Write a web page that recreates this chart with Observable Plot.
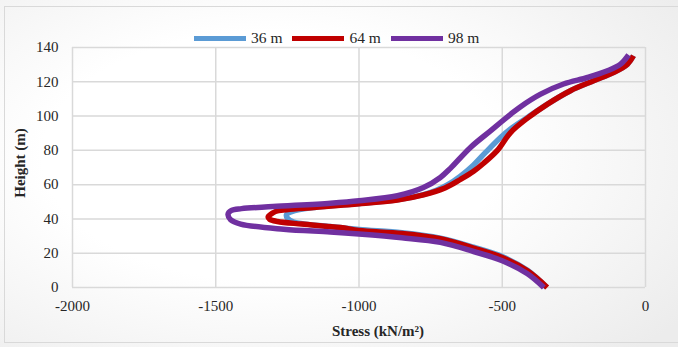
<!DOCTYPE html>
<html><head><meta charset="utf-8">
<script src="https://cdn.jsdelivr.net/npm/d3@7"></script>
<script src="https://cdn.jsdelivr.net/npm/@observablehq/plot@0.6"></script>
<style>
html,body{margin:0;padding:0;background:#fff;}
#wrap{position:relative;width:678px;height:347px;overflow:hidden;
  background:radial-gradient(ellipse 75% 80% at 40% 45%, #ffffff 45%, #ececec 100%);
  font-family:"Liberation Serif","Times New Roman",serif;color:#262626;}
#frame{position:absolute;left:4px;top:6px;width:700px;height:337px;border:1.5px solid #d9d9d9;box-sizing:border-box;}
#chart{position:absolute;left:0;top:0;}
#legend{position:absolute;left:194px;top:29px;display:flex;align-items:center;font-size:15.5px;}
.item{display:flex;align-items:center;margin-right:10px;}
.sw{width:52px;height:5px;margin-right:5px;}
#ytitle{position:absolute;left:20px;top:163px;transform:translate(-50%,-50%) rotate(-90deg);font-weight:bold;font-size:15px;white-space:nowrap;}
#xtitle{position:absolute;left:378px;top:331px;transform:translate(-50%,-50%);font-weight:bold;font-size:15px;white-space:nowrap;}
</style></head>
<body>
<div id="wrap"><div id="frame"></div><div id="chart"></div>
<div id="legend"></div>
<div id="ytitle">Height (m)</div>
<div id="xtitle">Stress (kN/m²)</div>
</div>
<script>
const seriesNames = ["36 m", "64 m", "98 m"];
const seriesColors = ["#5B9BD5", "#C00000", "#7030A0"];
const xTicks = [-2000, -1500, -1000, -500, 0];
const yTicks = [0, 20, 40, 60, 80, 100, 120, 140];

// 36 m
const stress36 = [-345,-412,-500,-600,-716,-850,-1000,-1100,-1228,-1250,-1253,-1235,-1150,-1065,-1000,-866,-775,-730,-690,-646,-600,-560,-506,-471,-412,-342,-262,-181,-112,-63,-42];
const height36 = [0,10,18,23.5,28.8,32,33.8,35.6,38.2,40.5,42.5,44.3,46.8,48.1,48.9,51.1,54.2,56.7,60,65,71.5,78.5,87.5,92.5,99.2,107,114.8,120.6,125.4,130.3,135.2];
// 64 m
const stress64 = [-343,-412,-500,-600,-716,-850,-1000,-1065,-1200,-1285,-1312,-1317,-1300,-1285,-1150,-1065,-1000,-866,-775,-700,-646,-600,-565,-517,-471,-412,-342,-262,-181,-112,-63,-42];
const height64 = [0,9.7,17.5,23,28.4,31.5,33.3,35,37,38.5,39.8,41.2,43.6,44.7,46.8,48,48.8,51,54,58,63,67.8,72.5,80,90.4,98.8,107,114.8,120.6,125.4,130.3,135.2];
// 98 m
const stress98 = [-355,-412,-500,-600,-716,-850,-1000,-1100,-1263,-1413,-1448,-1457,-1445,-1410,-1300,-1099,-1000,-866,-775,-716,-681,-611,-541,-471,-436,-366,-286,-202,-133,-87,-59];
const height98 = [0,8,15.6,21,26.3,29,31.2,32.4,34,37,39.5,42.8,45,46,47.2,49.2,50.6,53.5,58.3,64.2,69.5,81.7,91.4,101,105.5,112.8,118.7,122.5,126.4,130.3,135.7];

const stressData = [stress36, stress64, stress98];
const heightData = [height36, height64, height98];

const rows = seriesNames.map((name, i) =>
  stressData[i].map((s, j) => ({series: name, stress: s, height: heightData[i][j]})));

const fmt = d => String(d);

const chart = Plot.plot({
  width: 678, height: 347,
  marginLeft: 72, marginRight: 33, marginTop: 47, marginBottom: 60,
  style: {background: "transparent", fontFamily: "Liberation Serif, Times New Roman, serif", fontSize: "15px", color: "#262626"},
  x: {domain: [-2000, 0]},
  y: {domain: [0, 140]},
  color: {domain: seriesNames, range: seriesColors},
  marks: [
    Plot.gridX(xTicks, {stroke: "#d9d9d9", strokeOpacity: 1, strokeWidth: 1.5}),
    Plot.gridY(yTicks, {stroke: "#d9d9d9", strokeOpacity: 1, strokeWidth: 1.5}),
    Plot.axisX(xTicks, {tickSize: 0, tickPadding: 13, tickFormat: fmt, label: null, fontSize: 15}),
    Plot.axisY(yTicks, {tickSize: 0, tickPadding: 14, tickFormat: fmt, label: null, fontSize: 15}),
    ...rows.map(r => Plot.line(r, {x: "stress", y: "height", stroke: "series", strokeWidth: 5.5,
      curve: "catmull-rom", strokeLinecap: "butt", strokeLinejoin: "round"}))
  ]
});
document.getElementById("chart").appendChild(chart);

const legend = document.getElementById("legend");
seriesNames.forEach((n, i) => {
  const it = document.createElement("div"); it.className = "item";
  const sw = document.createElement("div"); sw.className = "sw"; sw.style.background = seriesColors[i];
  const t = document.createElement("span"); t.textContent = n;
  it.appendChild(sw); it.appendChild(t); legend.appendChild(it);
});
</script>
</body></html>
